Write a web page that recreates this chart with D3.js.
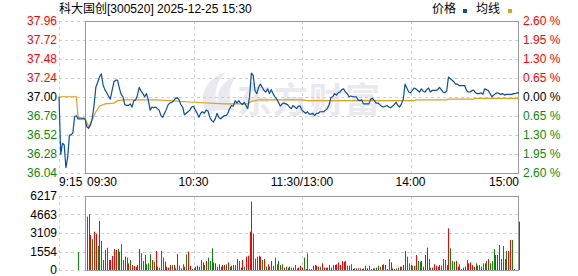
<!DOCTYPE html>
<html>
<head>
<meta charset="utf-8">
<script src="https://cdn.jsdelivr.net/npm/d3@7"></script>
<style>
body { margin: 0; background: #fff; }
text { font-family: "Liberation Sans", "Noto Sans CJK SC", sans-serif; font-size: 12px; }
</style>
</head>
<body>
<div id="container"></div>
<script>
//Chart data
const stockTitle = "科大国创[300520] 2025-12-25 15:30";
const preClose = 37.00;
const priceTicks = [37.96, 37.72, 37.48, 37.24, 37.00, 36.76, 36.52, 36.28, 36.04];
const pctLabels = ["2.60", "1.95", "1.30", "0.65", "0.00", "0.65", "1.30", "1.95", "2.60"];
const volTicks = [6217, 4663, 3109, 1554, 0];
const timeLabels = ["9:15", "09:30", "10:30", "11:30/13:00", "14:00", "15:00"];
const timeMinutes = [-15, 0, 60, 120, 180, 240];

//Call auction (minutes before 9:30)
const preMinutes = [-15, -14, -13, -12, -11, -10, -9, -8, -7, -6, -5, -4];
const prePrices = [37.00, 36.27, 36.41, 36.39, 36.10, 36.23, 36.51, 36.52, 36.54, 36.75, 36.76, 36.72];
const preVolMinute = -4;
const preVolume = 1500;

//Price per minute, 9:30 .. 15:00
const prices = [
  36.72, 36.62, 36.60, 36.64, 36.72, 36.89, 37.12, 37.18, 37.25, 37.29,
  37.15, 37.09, 37.05, 37.01, 36.97, 37.08, 37.19, 37.21, 37.21, 37.11,
  37.03, 37.00, 36.90, 36.89, 36.89, 36.91, 36.87, 36.95, 36.96, 37.02,
  37.12, 37.07, 37.04, 37.00, 37.04, 36.96, 36.83, 36.87, 36.86, 36.87,
  36.85, 36.83, 36.76, 36.74, 36.79, 36.84, 36.90, 36.92, 36.93, 36.95,
  36.98, 36.99, 36.96, 36.90, 36.87, 36.77, 36.79, 36.81, 36.83, 36.87,
  36.88, 36.83, 36.79, 36.74, 36.79, 36.81, 36.79, 36.83, 36.82, 36.74,
  36.70, 36.68, 36.72, 36.79, 36.74, 36.72, 36.74, 36.76, 36.76, 36.79,
  36.85, 36.89, 36.88, 36.95, 36.92, 36.95, 36.92, 36.90, 36.93, 36.89,
  36.85, 37.00, 37.30, 37.27, 37.08, 37.04, 37.12, 37.16, 37.12, 37.08,
  37.06, 37.10, 37.04, 37.09, 37.04, 37.00, 36.97, 36.93, 36.88, 36.91,
  36.92, 36.91, 36.90, 36.87, 36.85, 36.89, 36.87, 36.85, 36.88, 36.88,
  36.83, 36.81, 36.79, 36.81, 36.78, 36.78, 36.79, 36.76, 36.79, 36.79,
  36.81, 36.81, 36.81, 36.83, 36.85, 36.90, 36.99, 37.00, 37.04, 37.02,
  37.05, 37.06, 37.09, 37.10, 37.06, 37.04, 37.00, 37.01, 37.00, 37.00,
  37.00, 36.96, 36.95, 36.96, 36.91, 36.91, 36.91, 36.91, 36.97, 36.98,
  36.95, 36.92, 36.92, 36.90, 36.88, 36.87, 36.88, 36.89, 36.87, 36.86,
  36.88, 36.90, 36.93, 36.89, 36.87, 36.91, 36.97, 37.16, 37.11, 37.06,
  37.05, 37.08, 37.11, 37.10, 37.08, 37.06, 37.10, 37.07, 37.06, 37.09,
  37.11, 37.06, 37.08, 37.08, 37.08, 37.09, 37.12, 37.09, 37.06, 37.05,
  37.07, 37.25, 37.23, 37.21, 37.19, 37.16, 37.16, 37.14, 37.14, 37.14,
  37.14, 37.08, 37.06, 37.06, 37.08, 37.08, 37.05, 37.04, 37.04, 37.05,
  37.03, 37.10, 37.09, 37.08, 37.04, 37.00, 37.02, 37.04, 37.05, 37.04,
  37.03, 37.04, 37.02, 37.03, 37.03, 37.03, 37.03, 37.04, 37.04, 37.05,
  37.05
];

//Average price line
const avgMinutes = [-15, -5, -4, 0, 2, 4, 6, 8, 11, 16, 18, 22, 40, 60, 77, 90, 92, 96, 120, 123, 182, 183, 200, 201, 215, 216, 240];
const avgPrices = [37.00, 37.00, 36.74, 36.73, 36.62, 36.71, 36.81, 36.88, 36.91, 36.92, 36.95, 36.96, 36.96, 36.93, 36.91, 36.91, 36.94, 36.96, 36.96, 36.95, 36.95, 36.96, 36.96, 36.97, 36.97, 36.98, 36.98];

//Volume per minute (lots), 9:30 .. 15:00
const volumes = [
  0,
  4480, 4700, 2940, 2580, 3220, 3020, 2020, 4120, 2440, 840,
  1680, 1870, 840, 840, 1180, 1760, 1680, 1760, 1540, 2180,
  840, 1120, 1040, 560, 840, 420, 340, 280, 420, 1760,
  1400, 760, 1260, 480, 560, 1320, 840, 700, 1600, 280,
  200, 1600, 1040, 700, 280, 200, 420, 420, 420, 140,
  1340, 360, 140, 480, 280, 1320, 1540, 340, 84, 140,
  280, 360, 280, 840, 640, 420, 760, 1040, 760, 1820,
  640, 560, 280, 480, 280, 420, 420, 480, 640, 280,
  360, 420, 420, 920, 760, 200, 840, 280, 1120, 1200,
  3220, 5740, 3020, 960, 1120, 1200, 1120, 840, 920, 280,
  480, 280, 760, 360, 1040, 480, 760, 420, 480, 200,
  280, 200, 280, 200, 200, 420, 140, 200, 360, 200,
  1040, 84, 1400, 84, 84, 360, 420, 360, 280, 280,
  560, 200, 200, 200, 420, 200, 420, 420, 480, 640,
  420, 760, 700, 760, 360, 360, 480, 84, 140, 140,
  140, 140, 84, 140, 360, 140, 360, 84, 140, 140,
  200, 360, 280, 420, 480, 420, 84, 920, 640, 140,
  84, 140, 200, 280, 280, 420, 1600, 1120, 560, 420,
  360, 360, 1260, 760, 700, 760, 280, 1260, 1880, 920,
  200, 200, 480, 360, 280, 420, 360, 920, 840, 420,
  3500, 1820, 760, 700, 760, 280, 480, 84, 200, 280,
  840, 560, 640, 420, 280, 560, 360, 420, 280, 560,
  560, 760, 920, 560, 760, 1760, 1260, 1260, 2100, 920,
  2020, 920, 1600, 1600, 2520, 2520, 84, 0, 0, 4060
];
//R = up minute, G = down minute
const volSides = ("-" +
  "GRRGRRGRGG" + "RGGRRRRGRG" + "GRGRGRRRGR" + "GGRGGGRGRR" + "GGGRRRRGRR" + "RGRGRGRRRG" +
  "RRGGRGRGGG" + "RRRRGRRGRG" + "RRGRGRRGRR" + "RRGGGRRGRG" + "RGRGGGGRGG" + "RGRGRGRRRR" +
  "GRGRRRGRRG" + "RRRGRRGRRR" + "RRRGGRGRRG" + "RRRRRRGRRG" + "RGGRGRRGRR" + "RGGRGRRGGR" +
  "GRRGGRGRRG" + "GRRRRRGGGR" + "RGGGRRGRRR" + "GRRRRGRGRG" + "GGRGGGRRRG" + "GRGRRGR--R").split("");

//Dimensions
const width = 578;
const height = 276;
const left = 59, plotLeft = 85, plotRight = 519;
const priceTop = 21, priceBottom = 172.5;
const volTop = 196, volBottom = 270;

const red = "#ff0000", green = "#0a8a0a", gridColor = "#d0d0d0", frameColor = "#999";
const lineBlue = "#0b4d9e", avgGold = "#e0a020";

const svg = d3.select("#container")
    .append("svg")
    .attr("width", width)
    .attr("height", height);

//Scales
const x = d3.scaleLinear().domain([0, 240]).range([plotLeft, plotRight]);
const xPre = d3.scaleLinear().domain([-15, 0]).range([left, plotLeft]);
const xPos = m => m < 0 ? xPre(m) : x(m);
const y = d3.scaleLinear().domain([36.04, 37.96]).range([priceBottom, priceTop]);
const yVol = d3.scaleLinear().domain([0, 6217]).range([volBottom, volTop]);

//Watermark
svg.append("text")
    .attr("x", 237)
    .attr("y", 113)
    .style("font-size", "35px")
    .style("font-weight", "bold")
    .style("letter-spacing", "1px")
    .style("font-family", "'Noto Sans CJK SC'")
    .attr("fill", "#e9e9ef")
    .text("东方财富");
svg.append("path")
    .attr("d", "M206,112 C198,96 206,78 226,72 C214,84 212,98 222,110 Z M220,110 C214,96 220,82 236,76 C228,88 228,100 234,110 Z")
    .attr("fill", "#e9e9ef");

//Grid for both panels
function drawGrid(ticks, scale, top, bottom) {
    svg.append("g").selectAll("line")
        .data(ticks)
        .join("line")
        .attr("x1", left)
        .attr("x2", plotRight)
        .attr("y1", d => Math.round(scale(d)) + 0.5)
        .attr("y2", d => Math.round(scale(d)) + 0.5)
        .attr("stroke", gridColor)
        .attr("stroke-dasharray", "3,3");
    svg.append("g").selectAll("line")
        .data([-15, 60, 120, 180])
        .join("line")
        .attr("x1", d => Math.round(xPos(d)) + 0.5)
        .attr("x2", d => Math.round(xPos(d)) + 0.5)
        .attr("y1", top)
        .attr("y2", bottom)
        .attr("stroke", gridColor)
        .attr("stroke-dasharray", "3,3");
    svg.append("rect")
        .attr("x", plotLeft + 0.5)
        .attr("y", Math.round(top) + 0.5)
        .attr("width", plotRight - plotLeft - 1)
        .attr("height", Math.round(bottom) - Math.round(top))
        .attr("fill", "none")
        .attr("stroke", frameColor);
}
drawGrid(priceTicks, y, priceTop, priceBottom);
drawGrid(volTicks, yVol, volTop, volBottom);

//Left price axis
const priceColor = d => d > preClose ? red : d < preClose ? green : "#000";
const leftAxis = svg.append("g")
    .attr("transform", `translate(${left - 1},0)`)
    .call(d3.axisLeft(y).tickValues(priceTicks).tickSize(0).tickPadding(1).tickFormat(d3.format(".2f")));
leftAxis.select(".domain").remove();
leftAxis.selectAll("text")
    .style("font-size", "12px")
    .style("font-family", "'Liberation Sans'")
    .attr("fill", d => priceColor(d));

//Right percent axis
const rightAxis = svg.append("g")
    .attr("transform", `translate(${plotRight + 3},0)`)
    .call(d3.axisRight(y).tickValues(priceTicks).tickSize(0).tickPadding(1).tickFormat((d, i) => pctLabels[i] + " %"));
rightAxis.select(".domain").remove();
rightAxis.selectAll("text")
    .style("font-size", "12px")
    .style("font-family", "'Liberation Sans'")
    .attr("fill", d => priceColor(d));

//Volume axis
const volAxis = svg.append("g")
    .attr("transform", `translate(${left - 1},0)`)
    .call(d3.axisLeft(yVol).tickValues(volTicks).tickSize(0).tickPadding(1).tickFormat(d3.format("d")));
volAxis.select(".domain").remove();
volAxis.selectAll("text")
    .style("font-size", "12px")
    .style("font-family", "'Liberation Sans'")
    .attr("fill", "#000");

//Time labels
svg.append("g").selectAll("text")
    .data(timeLabels)
    .join("text")
    .attr("x", (d, i) => i === 1 ? xPos(timeMinutes[i]) + 2 : xPos(timeMinutes[i]))
    .attr("y", 186)
    .attr("text-anchor", (d, i) => i < 2 ? "start" : i === timeLabels.length - 1 ? "end" : "middle")
    .attr("fill", "#000")
    .text(d => d);

//Volume bars
const bars = volumes.map((v, m) => ({ m: m, v: v, side: volSides[m] })).filter(d => d.v > 0);
bars.push({ m: preVolMinute, v: preVolume, side: "G" });
svg.append("g").selectAll("rect")
    .data(bars)
    .join("rect")
    .attr("x", d => Math.round(xPos(d.m)))
    .attr("width", 1)
    .attr("y", d => yVol(d.v))
    .attr("height", d => volBottom - yVol(d.v))
    .attr("fill", d => d.side === "R" ? red : green);

//Average line
const avgData = avgMinutes.map((m, i) => ({ m: m, p: avgPrices[i] }));
svg.append("path")
    .datum(avgData)
    .attr("fill", "none")
    .attr("stroke", avgGold)
    .attr("stroke-width", 1.2)
    .attr("d", d3.line().x(d => xPos(d.m)).y(d => y(d.p)));

//Price line
const priceData = preMinutes.map((m, i) => ({ m: m, p: prePrices[i] }))
    .concat(prices.map((p, m) => ({ m: m, p: p })));
svg.append("path")
    .datum(priceData)
    .attr("fill", "none")
    .attr("stroke", lineBlue)
    .attr("stroke-width", 1.2)
    .attr("stroke-linejoin", "round")
    .attr("d", d3.line().x(d => xPos(d.m)).y(d => y(d.p)));

//Title
svg.append("text")
    .attr("x", left)
    .attr("y", 13)
    .attr("fill", "#000")
    .text(stockTitle);

//Legend
const legend = svg.append("g");
legend.append("text").attr("x", 432).attr("y", 13).attr("fill", "#000").text("价格");
legend.append("rect").attr("x", 463).attr("y", 9).attr("width", 4).attr("height", 4).attr("fill", lineBlue);
legend.append("text").attr("x", 476).attr("y", 13).attr("fill", "#000").text("均线");
legend.append("rect").attr("x", 508).attr("y", 9).attr("width", 4).attr("height", 4).attr("fill", avgGold);
</script>
</body>
</html>
